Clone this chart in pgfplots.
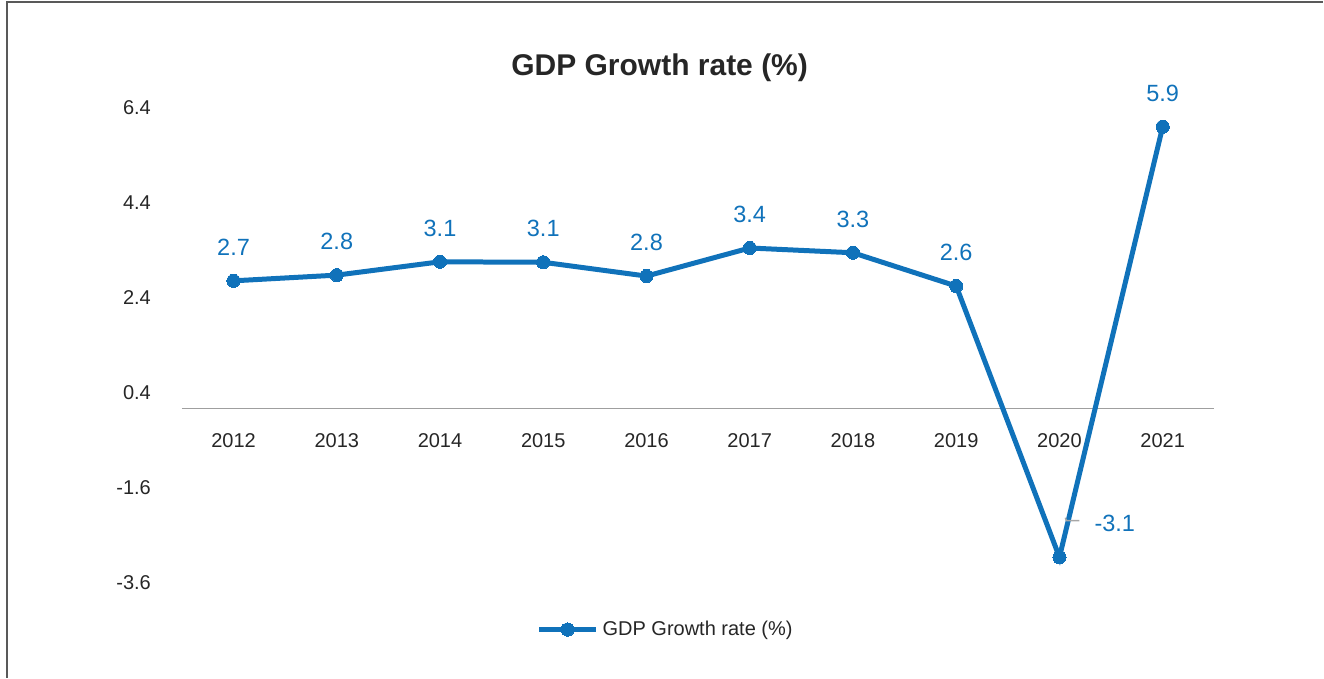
\documentclass[border=0pt]{standalone}
\usepackage{fontspec}
\setmainfont{Liberation Sans}
\usepackage{pgfplots}
\pgfplotsset{compat=1.18}
\definecolor{gdpblue}{RGB}{16,114,186}
\definecolor{txt}{RGB}{38,38,38}

\pgfplotstableread{
x y lab
0 2.69 2.7
1 2.81 2.8
2 3.09 3.1
3 3.08 3.1
4 2.79 2.8
5 3.38 3.4
6 3.28 3.3
7 2.58 2.6
8 -3.12 -3.1
9 5.93 5.9
}\gdpdata

\begin{document}
\begin{tikzpicture}[x=0.5pt,y=0.5pt]
% page is 1324 x 678 px, 1px = 0.5pt
\path (0,0) rectangle (1324,678);
\draw[gray!70!black, line width=0.75pt] (7,0) -- (7,676) -- (1324,676);
\node[font=\bfseries\fontsize{15}{18}\selectfont, text=txt] at (660,610) {GDP Growth rate (\%)};

\begin{axis}[
  at={(91pt,48.8pt)}, anchor=south west,
  scale only axis, width=516.5pt, height=238pt,
  xmin=-0.5, xmax=9.5, ymin=-3.6, ymax=6.4,
  axis x line=middle, axis y line=left,
  x axis line style={-, draw=gray!75, line width=0.6pt},
  y axis line style={draw=none},
  major tick length=0,
  xtick={0,1,2,3,4,5,6,7,8,9},
  xticklabels={2012,2013,2014,2015,2016,2017,2018,2019,2020,2021},
  ytick={-3.6,-1.6,0.4,2.4,4.4,6.4},
  yticklabels={-3.6,-1.6,0.4,2.4,4.4,6.4},
  xticklabel style={font=\fontsize{10}{12}\selectfont, text=txt, yshift=-9pt},
  yticklabel style={font=\fontsize{10}{12}\selectfont, text=txt, xshift=-12pt, yshift=-1.5pt},
  clip=false,
  legend style={at={(0.4695,-0.104)}, anchor=center, draw=none, fill=none,
    font=\fontsize{10}{12}\selectfont, text=txt},
  legend cell align=left,
  legend image code/.code={
    \draw[mark repeat=2, mark phase=2, #1] plot coordinates {(0pt,0pt) (14.25pt,0pt) (28.5pt,0pt)};
  },
]
\addplot[gdpblue, line width=2.5pt, mark=*, mark size=3.3pt,
  mark options={solid, fill=gdpblue, draw=gdpblue, line width=0pt}]
  table[x=x, y=y] {\gdpdata};
\addlegendentry{GDP Growth rate (\%)}

% value labels above points
\addplot[draw=none, mark=none, forget plot,
  nodes near coords, point meta=explicit symbolic,
  every node near coord/.append style={font=\fontsize{11.75}{14}\selectfont, text=gdpblue, yshift=9pt}]
  table[x=x, y=y, meta=lab, skip coords between index={8}{9}] {\gdpdata};

% label for 2020, to the right
\addplot[draw=none, mark=none, forget plot,
  nodes near coords, point meta=explicit symbolic,
  every node near coord/.append style={font=\fontsize{11.75}{14}\selectfont, text=gdpblue, anchor=west, xshift=14pt, yshift=17pt}]
  table[x=x, y=y, meta=lab, skip coords between index={0}{8}, skip coords between index={9}{10}] {\gdpdata};
\end{axis}
\draw[gray!70, line width=0.75pt] (1066,160) -- (1067,157) -- (1080,157);
\end{tikzpicture}
\end{document}
